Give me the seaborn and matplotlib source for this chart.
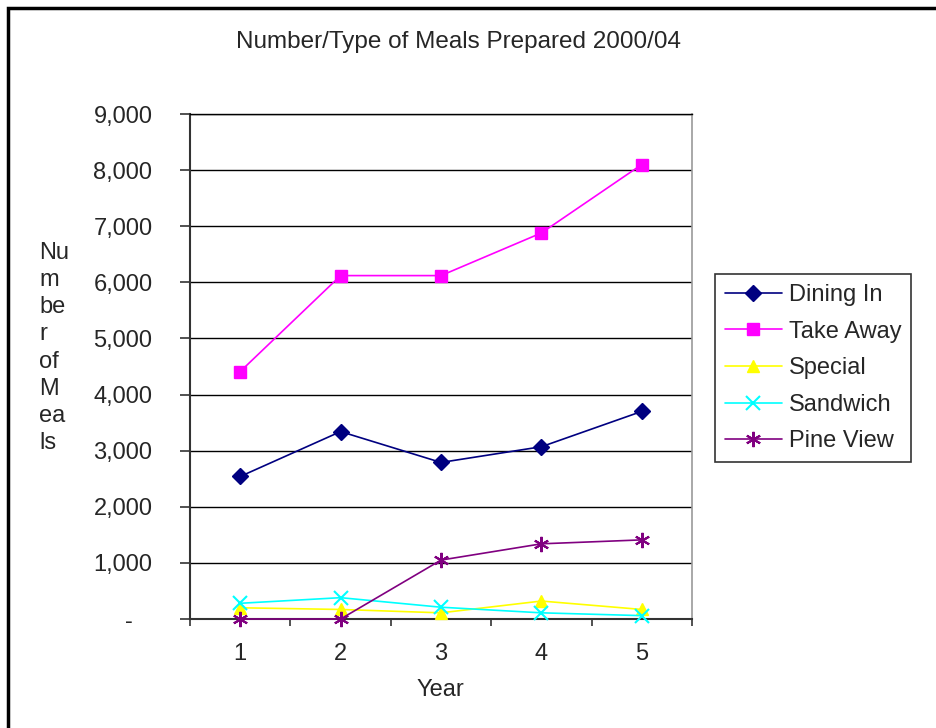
import matplotlib
matplotlib.use("Agg")
import matplotlib.pyplot as plt
from matplotlib.patches import Rectangle
import seaborn as sns
import pandas as pd

# Meals prepared per year, 2000/04
years = [1, 2, 3, 4, 5]
dining_in = [2540, 3340, 2790, 3070, 3700]
take_away = [4410, 6120, 6120, 6880, 8100]
special = [200, 170, 110, 320, 170]
sandwich = [280, 380, 210, 110, 60]
pine_view = [0, 0, 1050, 1340, 1410]

series_names = ["Dining In", "Take Away", "Special", "Sandwich", "Pine View"]
series_values = [dining_in, take_away, special, sandwich, pine_view]
y_ticks = [0, 1000, 2000, 3000, 4000, 5000, 6000, 7000, 8000, 9000]
y_tick_labels = ["-   ", "1,000", "2,000", "3,000", "4,000", "5,000",
                 "6,000", "7,000", "8,000", "9,000"]

colors = ["#000080", "#FF00FF", "#FFFF00", "#00FFFF", "#800080"]
markers = ["D", "s", "^", "x", (6, 2, 0)]
msizes = [8, 9, 9, 10, 11]

sns.set_theme(style="white")
plt.rcParams["font.family"] = ["Liberation Sans", "DejaVu Sans"]

FS = 17
W, H = 936, 728
fig = plt.figure(figsize=(W / 100, H / 100), dpi=100)
ax = fig.add_axes([190 / W, 1 - 619 / H, 502 / W, 505 / H])

df = pd.DataFrame({"Year": years * len(series_names),
                   "Meals": sum(series_values, []),
                   "Type": [n for n in series_names for _ in years]})

for name, col, mk, ms in zip(series_names, colors, markers, msizes):
    sub = df[df["Type"] == name]
    thin = mk == "x" or isinstance(mk, tuple)
    sns.lineplot(data=sub, x="Year", y="Meals", ax=ax, color=col,
                 marker=mk, markersize=ms, linewidth=1.2,
                 markeredgecolor=col, markeredgewidth=1.5 if thin else 1,
                 label=name, legend=False, clip_on=False, zorder=3)

ax.set_xlim(0.5, 5.5)
ax.set_ylim(0, 9000)
ax.set_yticks(y_ticks)
ax.set_yticklabels(y_tick_labels)
ax.set_xticks(years)
ax.set_xticklabels([str(y) for y in years])
ax.set_xticks([0.5, 1.5, 2.5, 3.5, 4.5, 5.5], minor=True)
ax.tick_params(axis="x", which="major", length=0, pad=17, labelsize=FS)
ax.tick_params(axis="x", which="minor", length=5, width=1.2, color="#333333",
               direction="out", bottom=True)
ax.tick_params(axis="y", which="major", length=7, width=1.2, color="#333333",
               direction="out", left=True, pad=20, labelsize=FS)
ax.grid(axis="y", color="black", linewidth=1.0)
ax.set_axisbelow(True)
ax.set_xlabel("")
ax.set_ylabel("")

for side in ["left", "bottom"]:
    ax.spines[side].set_color("#333333")
    ax.spines[side].set_linewidth(1.5)
ax.spines["right"].set_color("#999999")
ax.spines["right"].set_linewidth(1.2)
ax.spines["top"].set_color("black")
ax.spines["top"].set_linewidth(1.0)

handles, labels = ax.get_legend_handles_labels()
leg = fig.legend(handles, labels, loc="upper left",
                 bbox_to_anchor=(715 / W, 1 - 274 / H),
                 bbox_transform=fig.transFigure, borderaxespad=0,
                 fontsize=FS, frameon=True, fancybox=False,
                 edgecolor="black", handlelength=2.4, handletextpad=0.3,
                 labelspacing=0.62, borderpad=0.42)
leg.get_frame().set_linewidth(1.2)

fig.text(458 / W, 1 - 42 / H, "Number/Type of Meals Prepared 2000/04",
         ha="center", va="center", fontsize=17.5)
fig.text(440 / W, 1 - 690 / H, "Year", ha="center", va="center", fontsize=FS)
fig.text(39 / W, 1 - 348 / H, "Nu\nm\nbe\nr\nof\nM\nea\nls",
         ha="left", va="center", multialignment="left", fontsize=FS,
         linespacing=1.3)

fig.patches.append(Rectangle((8 / W, -0.1), 2.0, 1 - 8 / H + 0.1,
                             transform=fig.transFigure, fill=False,
                             edgecolor="black", linewidth=2.5))

fig.savefig("out.png", dpi=100, facecolor="white")
